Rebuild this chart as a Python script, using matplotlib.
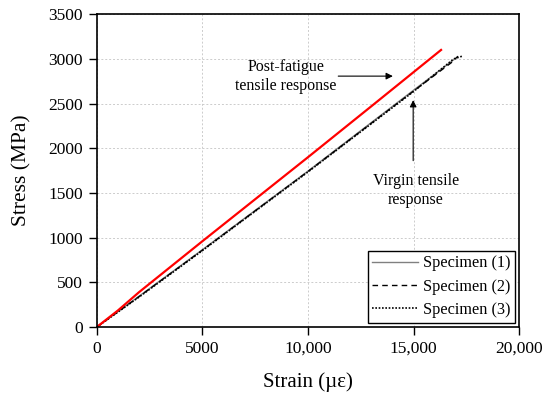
import matplotlib.pyplot as plt

plt.rcParams['font.family'] = ['Liberation Serif', 'DejaVu Serif']

# post-fatigue (red)
pf_strain = [0, 1000, 2000, 5000, 10000, 13000, 16300]
pf_stress = [0, 185, 390, 960, 1900, 2470, 3100]

# virgin specimens
s1_strain = [0, 2000, 5000, 10000, 15000, 16900]
s1_stress = [0, 345, 865, 1745, 2650, 2990]
s2_strain = [0, 2000, 5000, 10000, 15000, 16800, 17100]
s2_stress = [0, 340, 860, 1740, 2640, 2960, 3030]
s3_strain = [0, 2000, 5000, 10000, 15000, 16900, 17300]
s3_stress = [0, 335, 855, 1735, 2635, 3000, 3030]

fig = plt.figure(figsize=(5.5, 3.94), dpi=100)
ax = fig.add_axes([0.176, 0.170, 0.768, 0.794])

ax.plot(s1_strain, s1_stress, color='#808080', lw=1.0, label='Specimen (1)')
ax.plot(s2_strain, s2_stress, color='black', lw=1.0, ls=(0, (4, 3)), label='Specimen (2)')
ax.plot(s3_strain, s3_stress, color='black', lw=1.2, ls=(0, (1, 1)), label='Specimen (3)')
ax.plot(pf_strain, pf_stress, color='red', lw=1.6)

ax.set_xlim(0, 20000)
ax.set_ylim(0, 3500)
ax.set_xticks([0, 5000, 10000, 15000, 20000])
ax.set_xticklabels(['0', '5000', '10,000', '15,000', '20,000'])
ax.set_yticks(range(0, 3501, 500))
ax.tick_params(labelsize=12.5, direction='out', length=6, width=1, pad=4)
ax.grid(True, color='#cccccc', ls=(0, (2, 2)), lw=0.7)
for s in ax.spines.values():
    s.set_linewidth(1.2)

ax.set_xlabel('Strain (µε)', fontsize=15, labelpad=11)
ax.set_ylabel('Stress (MPa)', fontsize=15.5, labelpad=12)

ax.text(8950, 2807, 'Post-fatigue\ntensile response', ha='center', va='center', fontsize=11.5, linespacing=1.25)
ax.annotate('', xy=(14150, 2807), xytext=(11300, 2807),
            arrowprops=dict(arrowstyle='-|>', color='black', lw=0.8, mutation_scale=10))
ax.text(15100, 1532, 'Virgin tensile\nresponse', ha='center', va='center', fontsize=11.5, linespacing=1.25)
ax.annotate('', xy=(14980, 2570), xytext=(14980, 1830),
            arrowprops=dict(arrowstyle='-|>', color='black', lw=0.8, mutation_scale=10))

leg = ax.legend(loc='lower right', fontsize=11.7, fancybox=False, edgecolor='black',
                framealpha=1, handlelength=2.8, handletextpad=0.3, labelspacing=0.45,
                borderpad=0.3, borderaxespad=0.25)
leg.get_frame().set_linewidth(1.0)

fig.savefig('out.png', dpi=100)
